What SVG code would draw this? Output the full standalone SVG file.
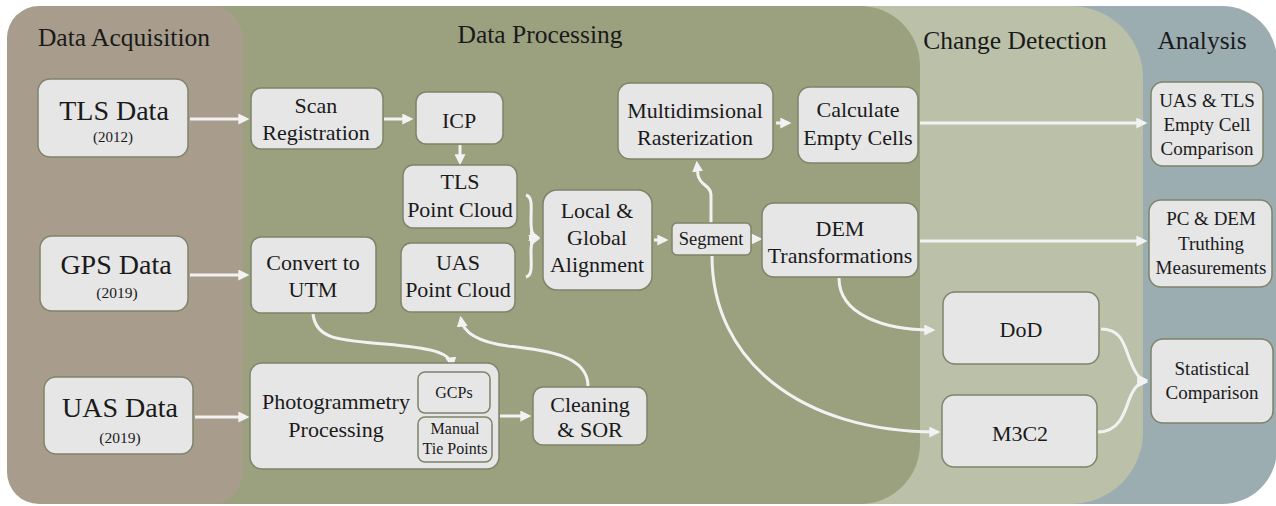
<svg xmlns="http://www.w3.org/2000/svg" width="1276" height="506" viewBox="0 0 1276 506">
<defs>
<style>
.t{font-family:'Liberation Serif',Tinos,'Times New Roman','DejaVu Serif',serif;fill:#1a1a1a;text-anchor:middle}
.title{font-size:25.5px}
.n rect{fill:#e6e6e6;stroke:#7e8469;stroke-width:1.5}
.c path{fill:none;stroke:#f2f2f2;stroke-width:3;marker-end:url(#ah)}
</style>
<marker id="ah" markerUnits="userSpaceOnUse" markerWidth="11" markerHeight="11" refX="7" refY="5" orient="auto" viewBox="0 0 10 10">
<path d="M0,0 L10,5 L0,10 z" fill="#f2f2f2"/>
</marker>
</defs>
<g id="regions">
<rect x="7" y="6" width="1270" height="498" rx="55" ry="55" fill="#9badb1"/>
<rect x="7" y="6" width="1136" height="498" rx="72" ry="72" fill="#bbc1a8"/>
<rect x="7" y="6" width="913" height="498" rx="60" ry="60" fill="#9ba17f"/>
<rect x="7" y="6" width="236" height="498" rx="32" ry="32" fill="#a89c8c"/>
</g>
<g id="titles">
<text class="t title" x="124" y="46">Data Acquisition</text>
<text class="t title" x="540" y="43">Data Processing</text>
<text class="t title" x="1015" y="49">Change Detection</text>
<text class="t title" x="1202" y="49">Analysis</text>
</g>
<g id="connectors" class="c">
<path d="M190 119 L246 119"/>
<path d="M384 119 L410 119"/>
<path d="M460 145 L460 162"/>
<path d="M526 195 C533 197 531 208 531 220 C531 231 532 236 537 237"/>
<path d="M526 277 C533 275 531 264 531 252 C531 244 532 240 537 239"/>
<path d="M654 240 L665 240"/>
<path d="M752 239 L759 239"/>
<path d="M711 223 L711 195 C711 185 700 186 698 175 L697 164"/>
<path d="M712 256 C712 360 800 432 937 432"/>
<path d="M776 123 L788 123"/>
<path d="M920 123 L1144 123"/>
<path d="M920 241 L1144 241"/>
<path d="M839 278 C839 315 885 330 932 330"/>
<path d="M1101 329 C1122 329 1124 345 1130 360 C1135 373 1140 380 1145 380"/>
<path d="M1098 432 C1118 432 1124 415 1129 400 C1134 387 1140 382 1145 382"/>
<path d="M190 275 L246 275"/>
<path d="M195 417 L246 417"/>
<path d="M313 314 C316 340 340 340 385 344 C430 348 450 352 452 365"/>
<path d="M500 416 L528 416"/>
<path d="M588 386 C588 355 545 350 508 346 C478 342 463 332 461 319"/>
</g>
<g id="tls-data" class="n"><rect x="38" y="79" width="150" height="78" rx="12"/>
<text class="t" x="114" y="120" font-size="28">TLS Data</text><text class="t" x="113" y="142" font-size="15">(2012)</text></g>
<g id="gps-data" class="n"><rect x="40" y="236" width="148" height="75" rx="12"/>
<text class="t" x="116" y="274" font-size="28">GPS Data</text><text class="t" x="117" y="298" font-size="15.5">(2019)</text></g>
<g id="uas-data" class="n"><rect x="44" y="377" width="149" height="77" rx="12"/>
<text class="t" x="120" y="417" font-size="28">UAS Data</text><text class="t" x="120" y="443" font-size="15.5">(2019)</text></g>
<g id="scan-registration" class="n"><rect x="251" y="88" width="132" height="61" rx="10"/>
<text class="t" x="316" y="113" font-size="22">Scan</text><text class="t" x="316" y="140" font-size="22">Registration</text></g>
<g id="icp" class="n"><rect x="416" y="92" width="87" height="52" rx="10"/>
<text class="t" x="459" y="128" font-size="22">ICP</text></g>
<g id="tls-point-cloud" class="n"><rect x="403" y="165" width="114" height="63" rx="10"/>
<text class="t" x="460" y="189" font-size="22">TLS</text><text class="t" x="460" y="217" font-size="22">Point Cloud</text></g>
<g id="uas-point-cloud" class="n"><rect x="401" y="243" width="114" height="69" rx="10"/>
<text class="t" x="458" y="270" font-size="22">UAS</text><text class="t" x="458" y="297" font-size="22">Point Cloud</text></g>
<g id="convert-utm" class="n"><rect x="251" y="237" width="125" height="76" rx="10"/>
<text class="t" x="313" y="270" font-size="22">Convert to</text><text class="t" x="313" y="297" font-size="22">UTM</text></g>
<g id="photogrammetry" class="n"><rect x="250" y="363" width="249" height="106" rx="12"/>
<text class="t" x="336" y="409" font-size="22">Photogrammetry</text><text class="t" x="336" y="437" font-size="22">Processing</text></g>
<g id="gcps" class="n"><rect x="418" y="372" width="72" height="41" rx="7"/>
<text class="t" x="454" y="398" font-size="16">GCPs</text></g>
<g id="manual-tie-points" class="n"><rect x="418" y="417" width="74" height="45" rx="7"/>
<text class="t" x="455" y="434" font-size="16">Manual</text><text class="t" x="455" y="454" font-size="16">Tie Points</text></g>
<g id="cleaning-sor" class="n"><rect x="533" y="387" width="114" height="58" rx="10"/>
<text class="t" x="590" y="412" font-size="22">Cleaning</text><text class="t" x="590" y="437" font-size="22">&amp; SOR</text></g>
<g id="local-global" class="n"><rect x="543" y="190" width="109" height="100" rx="14"/>
<text class="t" x="597" y="218" font-size="22">Local &amp;</text><text class="t" x="597" y="245" font-size="22">Global</text><text class="t" x="597" y="272" font-size="22">Alignment</text></g>
<g id="segment" class="n"><rect x="672" y="223" width="79" height="32" rx="5"/>
<text class="t" x="711" y="245" font-size="18.5">Segment</text></g>
<g id="rasterization" class="n"><rect x="618" y="83" width="155" height="76" rx="12"/>
<text class="t" x="695" y="118" font-size="22">Multidimsional</text><text class="t" x="695" y="145" font-size="22">Rasterization</text></g>
<g id="empty-cells" class="n"><rect x="798" y="87" width="120" height="76" rx="12"/>
<text class="t" x="858" y="117" font-size="22">Calculate</text><text class="t" x="858" y="145" font-size="22">Empty Cells</text></g>
<g id="dem-transformations" class="n"><rect x="762" y="203" width="156" height="74" rx="12"/>
<text class="t" x="840" y="236" font-size="22">DEM</text><text class="t" x="840" y="263" font-size="22">Transformations</text></g>
<g id="dod" class="n"><rect x="943" y="292" width="156" height="72" rx="12"/>
<text class="t" x="1021" y="337" font-size="22">DoD</text></g>
<g id="m3c2" class="n"><rect x="942" y="395" width="155" height="72" rx="12"/>
<text class="t" x="1020" y="441" font-size="22">M3C2</text></g>
<g id="empty-cell-comparison" class="n"><rect x="1151" y="82" width="112" height="84" rx="12"/>
<text class="t" x="1207" y="107" font-size="19">UAS &amp; TLS</text><text class="t" x="1207" y="131" font-size="19">Empty Cell</text><text class="t" x="1207" y="155" font-size="19">Comparison</text></g>
<g id="truthing" class="n"><rect x="1149" y="200" width="123" height="87" rx="12"/>
<text class="t" x="1211" y="225" font-size="19">PC &amp; DEM</text><text class="t" x="1211" y="250" font-size="19">Truthing</text><text class="t" x="1211" y="274" font-size="19">Measurements</text></g>
<g id="statistical" class="n"><rect x="1151" y="339" width="122" height="84" rx="12"/>
<text class="t" x="1212" y="375" font-size="19">Statistical</text><text class="t" x="1212" y="399" font-size="19">Comparison</text></g>
</svg>
